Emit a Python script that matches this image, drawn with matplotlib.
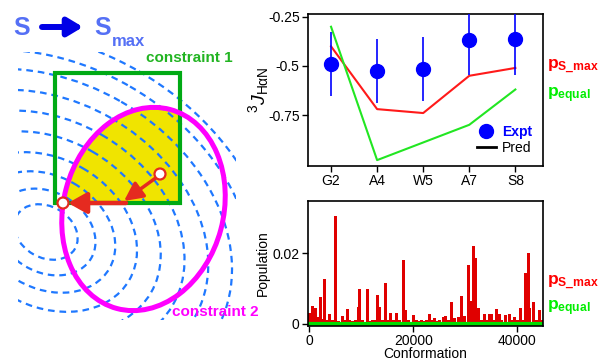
import matplotlib
matplotlib.use('Agg')
import matplotlib.pyplot as plt
from matplotlib.patches import Ellipse, Rectangle, Circle, FancyArrowPatch
from matplotlib.lines import Line2D

plt.rcParams['font.family'] = ['Liberation Sans', 'DejaVu Sans']
plt.rcParams['axes.unicode_minus'] = False
plt.rcParams['mathtext.fontset'] = 'custom'
plt.rcParams['mathtext.rm'] = 'Liberation Sans'
plt.rcParams['mathtext.it'] = 'Liberation Sans:italic'
plt.rcParams['mathtext.bf'] = 'Liberation Sans:bold'

# 3J(HaN) couplings per residue
residues = ['G2', 'A4', 'W5', 'A7', 'S8']
j_expt = [-0.49, -0.525, -0.515, -0.37, -0.36]
j_err = [0.165, 0.165, 0.165, 0.175, 0.185]
j_smax = [-0.40, -0.72, -0.74, -0.55, -0.51]
j_equal = [-0.30, -0.98, -0.89, -0.80, -0.62]

# population of conformations (S_max solution), spikes only
conf_idx = [130, 650, 1230, 1700, 2190, 2600, 3010, 3500, 3970, 4500,
            5070, 5600, 6410, 6900, 7290, 7800, 8300, 8800, 9400, 9730,
            10300, 11130, 11700, 12200, 12600, 13050, 13570, 14100, 14590, 15200,
            15680, 16250, 16830, 17400, 18040, 18560, 19100, 19970, 20500, 21000,
            21500, 22000, 22500, 23050, 23600, 24130, 24600, 25100, 25720, 26240,
            26800, 27330, 27970, 28600, 29250, 29800, 30520, 30980, 31480, 31940,
            32440, 33000, 33720, 34200, 34550, 34950, 35450, 35970, 36470, 37000,
            37750, 38390, 38900, 39480, 40000, 40630, 41100, 41460, 42040, 42400,
            43100, 43700, 44300, 44800]
pop_smax = [0.0030, 0.0050, 0.0044, 0.0020, 0.0077, 0.0015, 0.0126, 0.0012, 0.0029, 0.0010,
            0.0306, 0.0008, 0.0022, 0.0012, 0.0042, 0.0010, 0.0009, 0.0011, 0.0049, 0.0099,
            0.0010, 0.0100, 0.0008, 0.0010, 0.0012, 0.0081, 0.0047, 0.0012, 0.0115, 0.0010,
            0.0030, 0.0012, 0.0030, 0.0010, 0.0181, 0.0038, 0.0012, 0.0025, 0.0010, 0.0009,
            0.0011, 0.0009, 0.0010, 0.0028, 0.0012, 0.0016, 0.0009, 0.0010, 0.0019, 0.0021,
            0.0012, 0.0063, 0.0018, 0.0020, 0.0080, 0.0022, 0.0167, 0.0065, 0.0220, 0.0186,
            0.0044, 0.0012, 0.0028, 0.0010, 0.0028, 0.0028, 0.0012, 0.0042, 0.0028, 0.0010,
            0.0024, 0.0028, 0.0012, 0.0020, 0.0010, 0.0046, 0.0012, 0.0143, 0.0202, 0.0044,
            0.0063, 0.0012, 0.0038, 0.0010]
n_conf = 45000
p_equal = 1.0 / n_conf

# entropy contour levels for the sketch
s_levels = [0.16, 0.25, 0.35, 0.46, 0.58, 0.70, 0.82, 0.94, 1.05, 1.16]

fig = plt.figure(figsize=(5.98, 3.6), dpi=100)

# ---- left: sketch (axes in pixel units) ----
ax0 = fig.add_axes([0, 0, 300 / 598, 1])
ax0.set_xlim(0, 300)
ax0.set_ylim(360, 0)
ax0.axis('off')

clip_box = Rectangle((18, 52), 218, 268, transform=ax0.transData)
for k in s_levels:
    e = Ellipse((46, 232), 418 * k, 320 * k, angle=30, fill=False,
                ec='#1f78ff', lw=1.6, ls=(0, (3, 2.2)), zorder=2)
    ax0.add_patch(e)
    e.set_clip_path(clip_box)

square = Rectangle((55, 73), 125, 130, fill=False, ec='#00aa14', lw=3, zorder=3)
yellow = Ellipse((143.5, 209), 160, 206, angle=15, fc='#f0e400', ec='none', zorder=1)
ax0.add_patch(yellow)
yellow.set_clip_path(Rectangle((55, 73), 125, 130, transform=ax0.transData))
ax0.add_patch(square)
ax0.add_patch(Ellipse((143.5, 209), 160, 206, angle=15, fill=False, ec='#ff00ff', lw=3.6, zorder=4))

ax0.add_patch(FancyArrowPatch((157, 177), (124, 201), arrowstyle='-|>,head_length=0.8,head_width=0.4',
                              mutation_scale=14, lw=2.5, color='#e52a20', shrinkA=0, shrinkB=0, zorder=5))
ax0.add_patch(FancyArrowPatch((126, 203), (68, 203), arrowstyle='-|>,head_length=0.8,head_width=0.45',
                              mutation_scale=14, lw=3.2, color='#e52a20', shrinkA=0, shrinkB=0, zorder=5))
ax0.add_patch(Circle((160, 174), 5.5, fc='white', ec='#e52a20', lw=1.6, zorder=6))
ax0.add_patch(Circle((63, 203), 5.5, fc='white', ec='#e52a20', lw=1.6, zorder=6))

ax0.text(13, 28, 'S', fontsize=18, fontweight='bold', color='#5570f5', va='center')
ax0.add_patch(FancyArrowPatch((42, 27), (83, 27), arrowstyle='-|>,head_length=0.75,head_width=0.45',
                              mutation_scale=12, lw=4.3, color='#0000e6', shrinkA=0, shrinkB=0))
ax0.text(94, 28, 'S', fontsize=18, fontweight='bold', color='#5570f5', va='center')
ax0.text(112, 42, 'max', fontsize=12, fontweight='bold', color='#5570f5', va='center')
ax0.text(146, 58, 'constraint 1', fontsize=11, fontweight='bold', color='#22b422', va='center')
ax0.text(172, 312, 'constraint 2', fontsize=11, fontweight='bold', color='#ff00ff', va='center')

# ---- right top: J couplings ----
ax1 = fig.add_axes([308 / 598, 1 - 166 / 360, 235 / 598, 152 / 360])
x = list(range(len(residues)))
ax1.errorbar(x, j_expt, yerr=j_err, fmt='o', color='#0000ff', ms=10, elinewidth=1.2, capsize=0, zorder=3)
ax1.plot(x, j_smax, color='#ff1a1a', lw=1.5)
ax1.plot(x, j_equal, color='#22e622', lw=1.5)
ax1.set_xlim(-0.5, 4.6)
ax1.set_ylim(-1.01, -0.235)
ax1.set_xticks(x)
ax1.set_xticklabels(residues)
ax1.set_yticks([-0.25, -0.5, -0.75])
ax1.set_yticklabels(['-0.25', '-0.5', '-0.75'])
ax1.set_ylabel(r'$^{3}J_{\mathrm{H\alpha N}}$', fontsize=14, labelpad=-2)
leg = ax1.legend([Line2D([], [], marker='o', color='#0000ff', ls='none', ms=10),
                  Line2D([], [], color='black', lw=2)], ['Expt', 'Pred'],
                 loc='lower right', frameon=False, fontsize=10, handlelength=1.4,
                 handletextpad=0.4, labelspacing=0.15, borderaxespad=0.4)
leg.get_texts()[0].set_color('#0000ff')
leg.get_texts()[0].set_fontweight('bold')

# ---- right bottom: populations ----
ax2 = fig.add_axes([308 / 598, 1 - 326 / 360, 235 / 598, 125 / 360])
ax2.bar(conf_idx, pop_smax, width=580, color='#e00000', lw=0)
ax2.plot([0, n_conf], [p_equal, p_equal], color='#00dd00', lw=3)
ax2.set_xlim(-250, 44900)
ax2.set_ylim(-0.0006, 0.0348)
ax2.set_xticks([0, 20000, 40000])
ax2.set_yticks([0, 0.02])
ax2.set_yticklabels(['0', '0.02'])
ax2.set_xlabel('Conformation', fontsize=10, labelpad=-1)
ax2.set_ylabel('Population', fontsize=10, labelpad=2)

for ax in (ax1, ax2):
    ax.tick_params(direction='out', length=4, width=1, labelsize=10, pad=2)
    for s in ax.spines.values():
        s.set_linewidth(1.2)

# side labels
for yy in (67, 283):
    fig.text(547 / 598, 1 - yy / 360, r'$\mathbf{p_{S\_max}}$', fontsize=12.5, color='#ff0000', va='center')
for yy in (95, 308):
    fig.text(547 / 598, 1 - yy / 360, r'$\mathbf{p_{equal}}$', fontsize=12.5, color='#00ee00', va='center')

fig.savefig('out.png', dpi=100)
